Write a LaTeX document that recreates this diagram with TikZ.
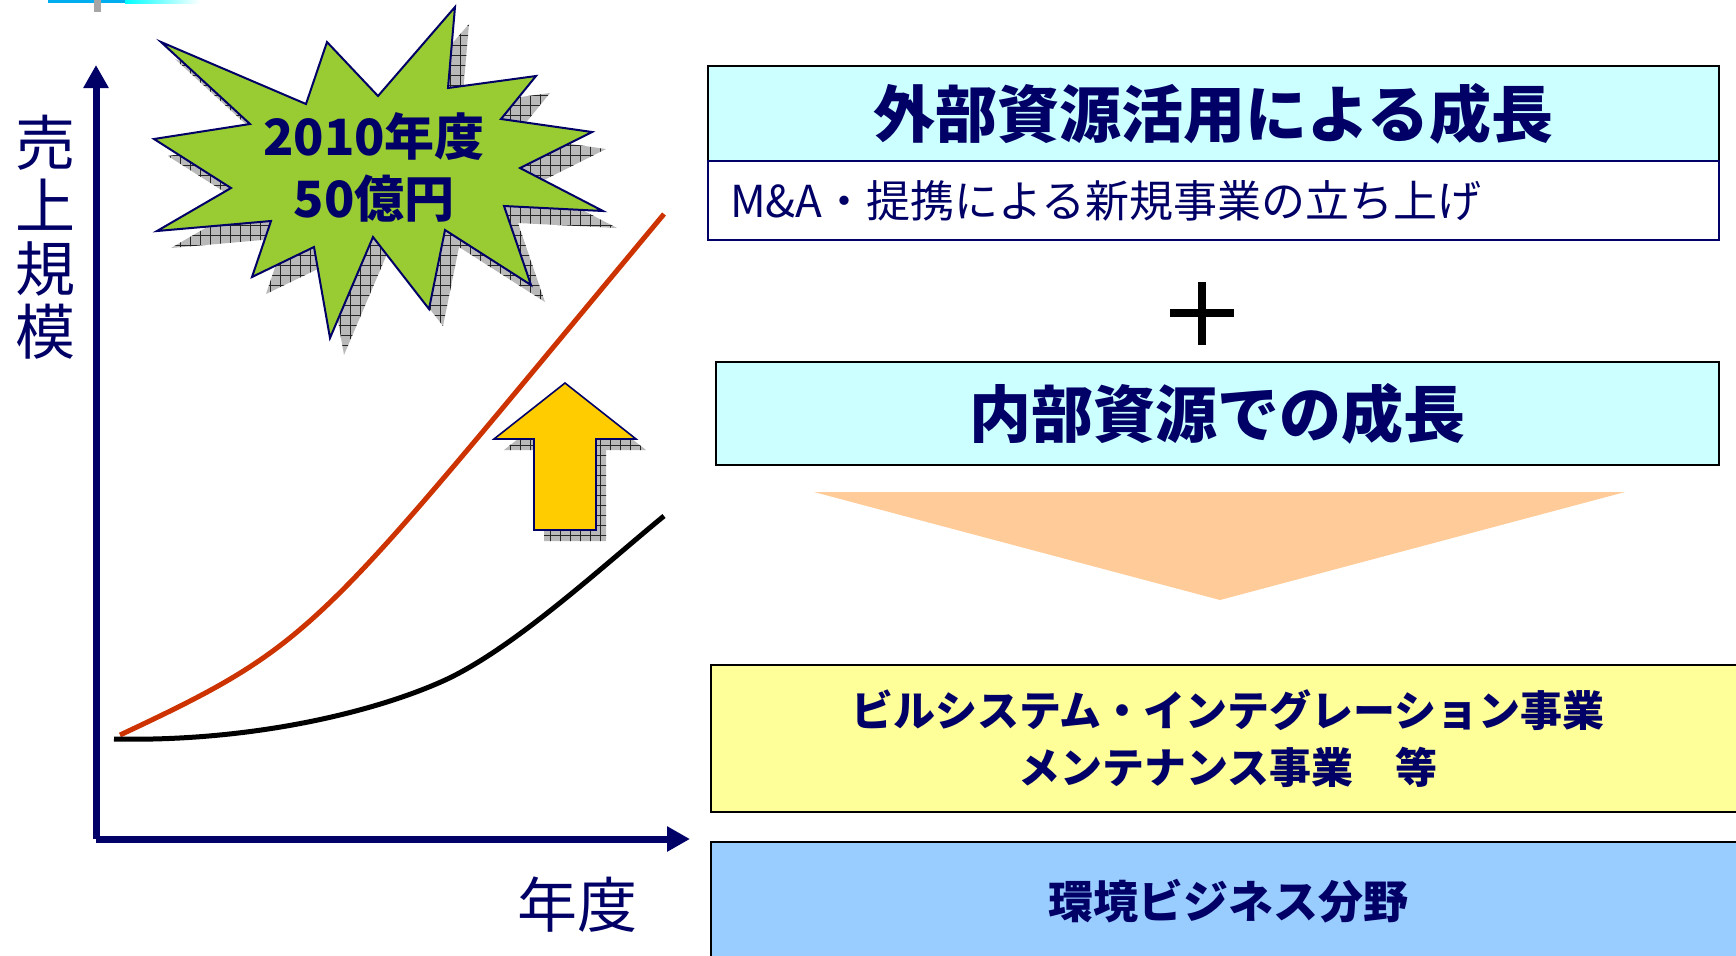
\documentclass[tikz,border=0pt]{standalone}
\usepackage{xcolor}
\usepackage{fontspec}
\usepackage{tikz}
\usetikzlibrary{arrows.meta, positioning, patterns.meta}
\newfontfamily\jp{Noto Sans CJK JP}
\definecolor{navy}{RGB}{0,0,102}
\definecolor{curvered}{RGB}{204,51,0}
\definecolor{burstgreen}{RGB}{153,204,51}
\definecolor{arrowyellow}{RGB}{255,204,0}
\definecolor{boxcyan}{RGB}{204,255,255}
\definecolor{trianorange}{RGB}{255,204,153}
\definecolor{boxyellow}{RGB}{255,255,153}
\definecolor{boxblue}{RGB}{153,204,255}

\begin{document}
\begin{tikzpicture}[x=0.5pt, y=-0.5pt,
  axisline/.style={navy, line width=3.5pt, -{Triangle[length=11.5pt,width=12pt]}},
  dropshade/.style={fill=gray!55, postaction={pattern={Hatch[angle=0,distance=5pt,line width=0.4pt]}, pattern color=gray!30!black}},
  growth/.style={line width=2.5pt},
  boxtitle/.style={draw=black, line width=1pt, fill=boxcyan, text=navy, font=\jp\bfseries\fontsize{31pt}{36pt}\selectfont, inner sep=0pt},
  fieldbox/.style={draw=black, line width=1pt, text=navy, font=\jp\bfseries, align=center, inner sep=0pt}]
\useasboundingbox (0,0) rectangle (1736,955);
\clip (0,0) rectangle (1736,955);
% top left remains
\fill[cyan] (48,0) rectangle (125,3);
\shade[left color=cyan, right color=white] (125,0) rectangle (200,3);
\fill[gray!70] (94,0) rectangle (101,12);

% axes
\coordinate (o) at (96,839);
\coordinate (ytop) at (96,65);
\coordinate (xend) at (690,839);
\draw[axisline] (o) -- (ytop);
\draw[axisline] (o) -- (xend);
\node[text=navy, font=\jp\fontsize{30pt}{31.5pt}\selectfont, align=center] (ylab) at (46,237) {売\\上\\規\\模};
\node[text=navy, font=\jp\fontsize{30pt}{36pt}\selectfont] (xlab) at (577,905) {年度};

% growth curves
\draw[growth, curvered] (120,735) .. controls (320,641) and (314,634) .. (664,214);
\draw[growth, black] (114,739) .. controls (250,742) and (373,712.5) .. (443,681)
  .. controls (513,649.5) and (604,565) .. (664,516);

% starburst
\begin{scope}[shift={(14,17)}]
\fill[dropshade] (161,42) -- (306,104) -- (327,42) -- (378,96) -- (455,7) -- (448,88) -- (536,76) -- (501,119) -- (592,132) -- (520,168) -- (603,211) -- (504,206) -- (531,285) -- (445,230) -- (429,309) -- (373,237) -- (330,338) -- (314,247) -- (252,277) -- (271,221) -- (157,231) -- (231,188) -- (154,139) -- (250,124) -- cycle;
\end{scope}
\draw[navy, line width=1pt, fill=burstgreen] (161,42) -- (306,104) -- (327,42) -- (378,96) -- (455,7) -- (448,88) -- (536,76) -- (501,119) -- (592,132) -- (520,168) -- (603,211) -- (504,206) -- (531,285) -- (445,230) -- (429,309) -- (373,237) -- (330,338) -- (314,247) -- (252,277) -- (271,221) -- (157,231) -- (231,188) -- (154,139) -- (250,124) -- cycle;
\node[text=navy, font=\jp\bfseries\fontsize{25pt}{31pt}\selectfont, align=center] (goal) at (374,167) {2010年度\\50億円};

% up arrow
\fill[dropshade] (575,394) -- (646,450) -- (606,450) -- (606,541) -- (544,541) -- (544,450) -- (504,450) -- cycle;
\draw[navy, line width=0.8pt, fill=arrowyellow] (565,383) -- (636,439) -- (596,439) -- (596,530) -- (534,530) -- (534,439) -- (494,439) -- cycle;

% right side
\node[boxtitle, minimum width=505.5pt, minimum height=47.5pt] (ext) at (1213.5,113.5) {外部資源活用による成長};
\node[draw=navy, line width=1pt, fill=white, text=navy, font=\jp\fontsize{22pt}{26pt}\selectfont, minimum width=505.5pt, minimum height=39.5pt, text width=483.5pt, inner xsep=11pt, inner ysep=0pt, align=left] (extsub) at (1213.5,200.5) {M\&A・提携による新規事業の立ち上げ};
\draw[black, line width=4pt] (1170,313) -- (1234,313);
\draw[black, line width=4pt] (1202,282) -- (1202,345);
\node[boxtitle, minimum width=501.5pt, minimum height=51.5pt] (int) at (1217.5,413.5) {内部資源での成長};
\fill[trianorange] (814,492) -- (1625,492) -- (1220,600) -- cycle;
\node[fieldbox, fill=boxyellow, minimum width=517pt, minimum height=73.5pt, font=\jp\bfseries\fontsize{21pt}{28.5pt}\selectfont] (biz) at (1228,738.5) {ビルシステム・インテグレーション事業\\メンテナンス事業　等};
\node[fieldbox, fill=boxblue, minimum width=517pt, minimum height=59pt, font=\jp\bfseries\fontsize{22.5pt}{27pt}\selectfont] (env) at (1228,901) {環境ビジネス分野};
\end{tikzpicture}
\end{document}
